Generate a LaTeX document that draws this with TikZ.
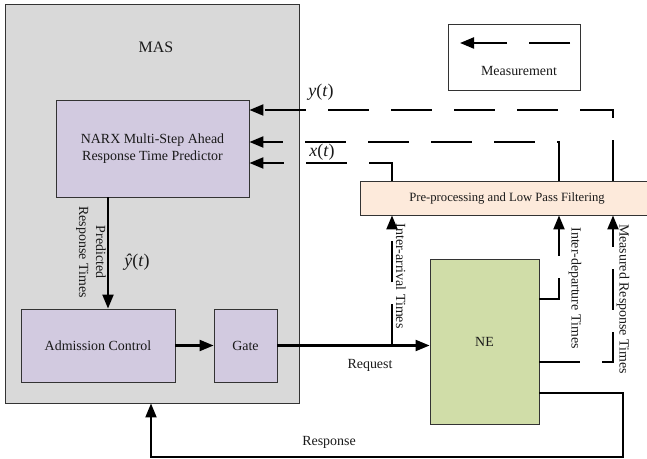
\documentclass[tikz,border=0pt]{standalone}
\usepackage{fontspec}
\setmainfont{Liberation Serif}
\usetikzlibrary{arrows.meta}
\definecolor{masgray}{HTML}{D9D9D9}
\definecolor{lav}{HTML}{D2CAE0}
\definecolor{peach}{HTML}{FDEADB}
\definecolor{negreen}{HTML}{D0DDA8}
\begin{document}
\begin{tikzpicture}[x=1bp,y=-1bp,
  box/.style={draw=black!80,line width=0.9bp,rectangle,inner sep=0pt,text=black!90,font=\fontsize{14}{17}\selectfont},
  conn/.style={line width=2.2bp,black},
  tip/.style={-{Triangle[length=14bp,width=11bp]}},
  measline/.style={conn,dash pattern=on 41bp off 22bp},
  lbl/.style={font=\fontsize{14}{17}\selectfont,inner sep=0pt,text=black!90},
  mlbl/.style={font=\fontsize{18}{20}\selectfont,inner sep=0pt,text=black!90}]
\useasboundingbox (0,0) rectangle (647,459);
% boxes
\node[box,fill=masgray,minimum width=294bp,minimum height=399bp] (mas) at (152,203.5) {};
\node[lbl,font=\fontsize{16}{19}\selectfont] (maslbl) at (156,47) {MAS};
\node[box,fill=lav,minimum width=193bp,minimum height=97bp,align=center] (narx) at (152.5,148.5) {NARX Multi-Step Ahead\\Response Time Predictor};
\node[box,fill=lav,minimum width=154bp,minimum height=73bp] (adm) at (98,345.5) {Admission Control};
\node[box,fill=lav,minimum width=63bp,minimum height=73bp] (gate) at (245.5,345.5) {Gate};
\node[box,fill=peach,minimum width=288bp,minimum height=34bp,font=\fontsize{12.7}{15}\selectfont] (pre) at (504,198) {\hspace*{6bp}Pre-processing and Low Pass Filtering};
\node[box,fill=negreen,minimum width=109bp,minimum height=165bp] (ne) at (484.5,341.5) {NE};
\node[box,fill=white,minimum width=132bp,minimum height=66bp] (meas) at (514,57) {};
\node[lbl] (measlbl) at (519,71) {Measurement};
% coordinates
\coordinate (yc) at (613,110);
\coordinate (x1c) at (559,142);
\coordinate (x2c) at (392,163);
\coordinate (pc) at (108,250);
\coordinate (ia) at (392,345.5);
\coordinate (idc) at (559,299);
\coordinate (mrc) at (613,362);
\coordinate (r1) at (623,393);
\coordinate (r2) at (623,457);
\coordinate (r3) at (151,457);
\coordinate (lg1) at (570,43);
\coordinate (lg2) at (460,43);
% connectors
\draw[measline,tip] (pre.north -| yc) -- (yc) -- (narx.east |- yc);
\draw[measline,tip] (pre.north -| x1c) -- (x1c) -- (narx.east |- x1c);
\draw[measline,tip] (pre.north -| x2c) -- (x2c) -- (narx.east |- x2c);
\draw[conn,tip] (narx.south -| pc) -- (adm.north -| pc);
\draw[conn,tip] (adm.east) -- (gate.west);
\draw[conn,tip] (gate.east) -- (ne.west |- gate.east);
\draw[measline,tip] (ia) -- (pre.south -| ia);
\draw[measline,tip] (ne.east |- idc) -- (idc) -- (pre.south -| idc);
\draw[measline,tip] (ne.east |- mrc) -- (mrc) -- (pre.south -| mrc);
\draw[conn,line width=2bp,tip] (ne.east |- r1) -- (r1) -- (r2) -- (r3) -- (mas.south -| r3);
\draw[measline,tip] (lg1) -- (lg2);
% labels
\node[mlbl] (ylbl) at (321,92) {\textit{y}(\textit{t})};
\node[mlbl] (xlbl) at (322,152) {\textit{x}(\textit{t})};
\node[mlbl] (yhlbl) at (137,262) {\textit{ŷ}(\textit{t})};
\node[lbl,rotate=-90,align=center] (predlbl) at (91,252) {Predicted\\Response Times};
\node[lbl,rotate=-90] (ialbl) at (401,276) {Inter-arrival Times};
\node[lbl,rotate=-90] (idlbl) at (575,288) {Inter-departure Times};
\node[lbl,rotate=-90] (mrlbl) at (623,299) {Measured Response Times};
\node[lbl] (reqlbl) at (370,365) {Request};
\node[lbl] (resplbl) at (329,442) {Response};
\end{tikzpicture}
\end{document}
